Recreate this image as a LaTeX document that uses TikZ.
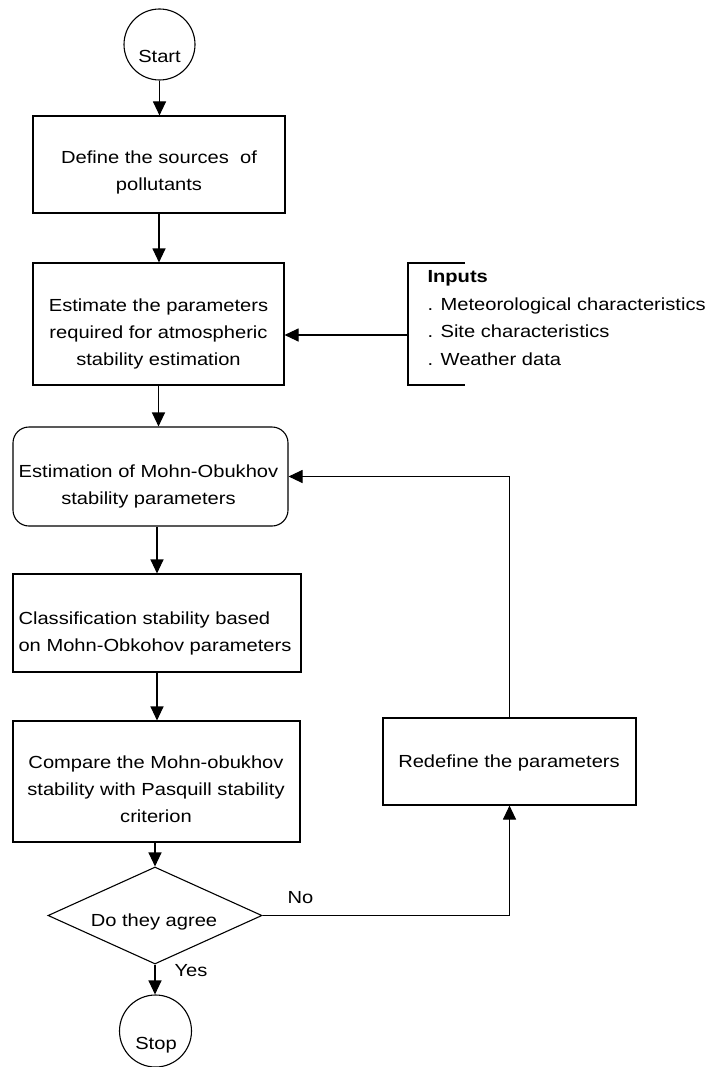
\documentclass[tikz,border=0pt]{standalone}
\usepackage{fontspec}
\setmainfont{Liberation Sans}[FakeStretch=1.15]
\usetikzlibrary{arrows.meta,shapes.geometric}
\begin{document}
\begin{tikzpicture}[x=1pt,y=-1pt,
  font=\fontsize{17.5pt}{27pt}\selectfont,
  line width=1.1pt,
  box/.style={draw, rectangle, inner sep=0pt},
  rbox/.style={draw, rectangle, rounded corners=16pt, inner sep=0pt},
  term/.style={draw, circle, inner sep=0pt},
  dec/.style={draw, diamond, inner sep=0pt},
  txt/.style={inner sep=0pt},
  arr/.style={-{Triangle[width=13pt,length=14pt]}},
]
\useasboundingbox (0,0) rectangle (712,1067);
% shapes
\node[term, minimum size=71pt] (start) at (159.5,44.5) {};
\node[box, minimum width=252pt, minimum height=97pt] (box1) at (159,164.5) {};
\node[box, minimum width=251pt, minimum height=122pt] (box2) at (158.5,324) {};
\node[rbox, minimum width=275pt, minimum height=99pt] (mo) at (150.5,476.5) {};
\node[box, minimum width=288pt, minimum height=98pt] (box3) at (157,623) {};
\node[box, minimum width=287pt, minimum height=121pt] (box4) at (156.5,781.5) {};
\node[dec, minimum width=214pt, minimum height=97pt] (dec) at (155,915.5) {};
\node[box, minimum width=253pt, minimum height=87pt] (redef) at (509.5,761.5) {};
\node[term, minimum size=72pt] (stop) at (155.5,1031) {};
% texts
\node[txt] (startt) at (159.5,56.5) {Start};
\node[txt, align=center] (t1) at (159,172.2) {Define the sources\ \ of\\pollutants};
\node[txt, align=center] (t2) at (158.5,334) {Estimate the parameters\\required for atmospheric\\stability estimation};
\node[txt, align=center] (tmo) at (148.5,486) {Estimation of Mohn-Obukhov\\stability parameters};
\node[txt, align=left, anchor=west] (t3) at (18,633) {Classification stability based\\on Mohn-Obkohov parameters};
\node[txt, align=center] (t4) at (156,789.7) {Compare the Mohn-obukhov\\stability with Pasquill stability\\criterion};
\node[txt] (tdec) at (154,922) {Do they agree};
\node[txt] (tredef) at (509,762.7) {Redefine the parameters};
\node[txt] (stopt) at (156,1045.3) {Stop};
\node[txt] (no) at (300.5,897.3) {No};
\node[txt] (yes) at (191,970.7) {Yes};
% inputs
\node[txt, anchor=base west, font=\fontsize{17.5pt}{27pt}\selectfont\bfseries] (in0) at (427,282) {Inputs};
\node[txt, anchor=base west] (in1) at (427,310) {. Meteorological characteristics};
\node[txt, anchor=base west] (in2) at (427,337.5) {. Site characteristics};
\node[txt, anchor=base west] (in3) at (427,365) {. Weather data};
\coordinate (bt) at (465,263);
\coordinate (bb) at (465,385);
\coordinate (bx) at (408,335);
\draw (bt) -- (408,263) -- (408,385) -- (bb);
% connectors
\draw[arr] (bx) -- (bx -| box2.east);
\draw[arr] (start.south) -- (start.south |- box1.north);
\draw[arr] (box1.south) -- (box1.south |- box2.north);
\draw[arr] (box2.south) -- (box2.south |- mo.north);
\draw[arr] (box3.north |- mo.south) -- (box3.north);
\draw[arr] (box3.south) -- (box3.south |- box4.north);
\draw[arr] (dec.north |- box4.south) -- (dec.north);
\draw[arr] (dec.south) -- (dec.south |- stop.north);
\draw[arr] (dec.east) -| (redef.south);
\draw[arr] (redef.north) |- (mo.east);
\end{tikzpicture}
\end{document}
